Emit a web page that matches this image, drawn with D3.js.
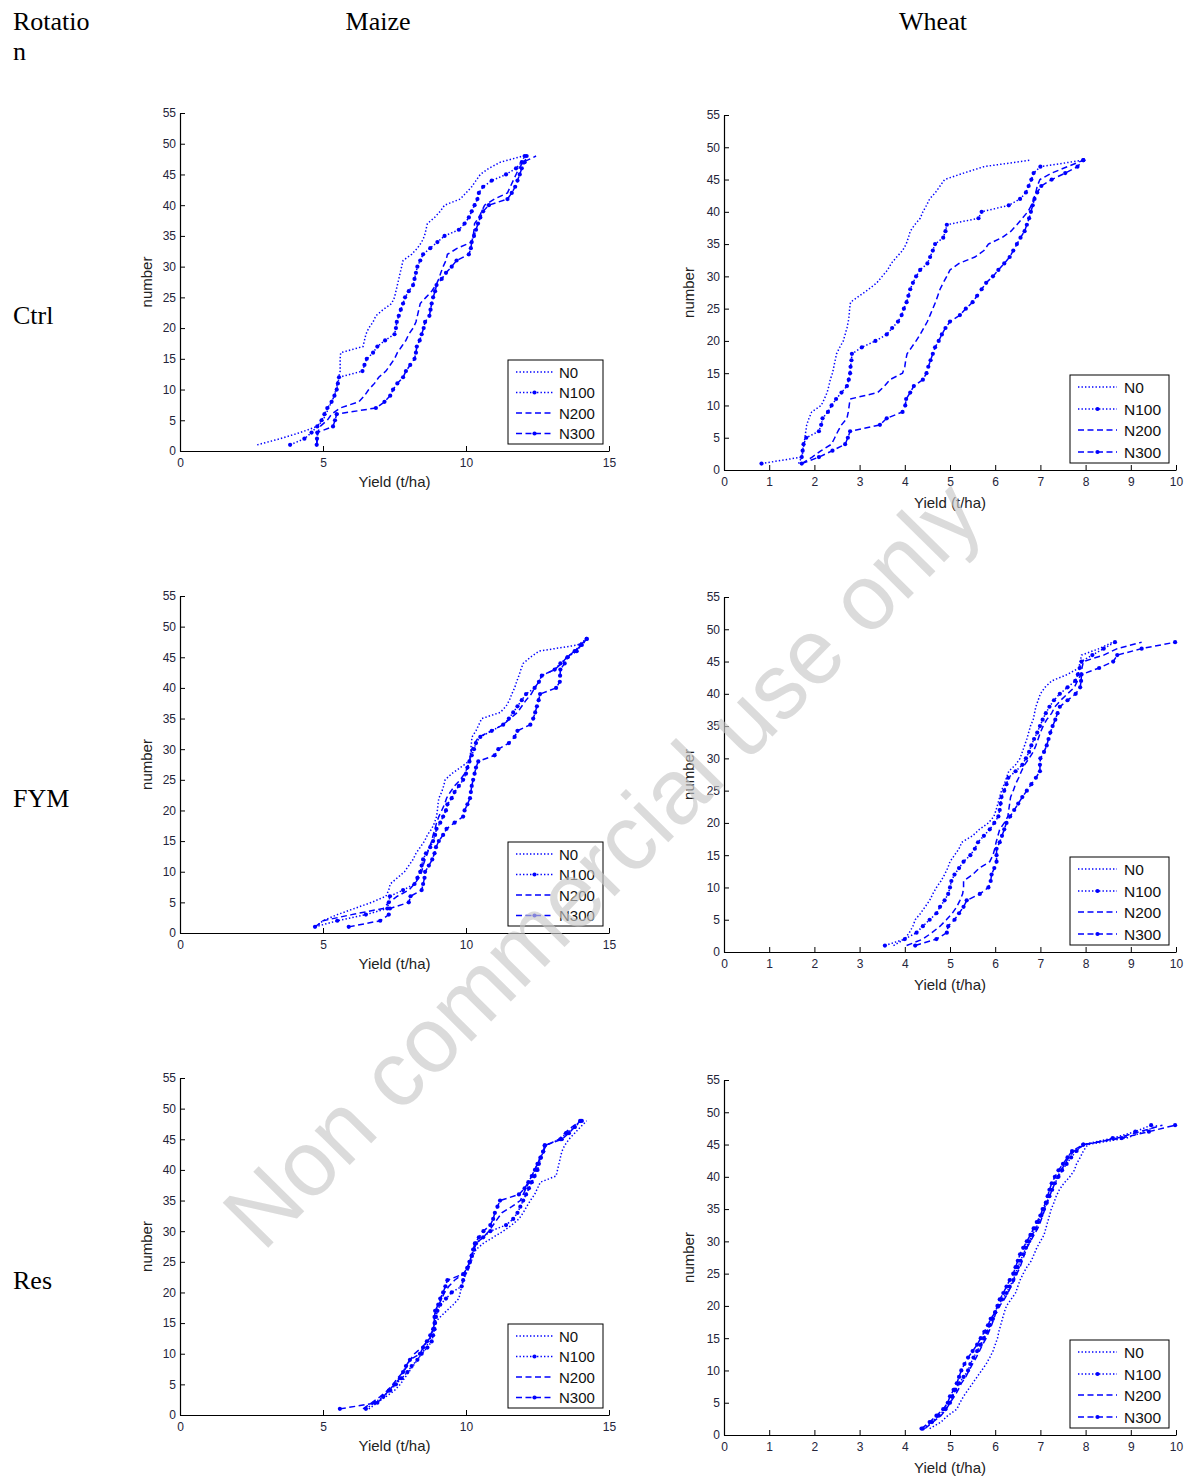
<!DOCTYPE html>
<html><head><meta charset="utf-8">
<script src="https://cdn.jsdelivr.net/npm/d3@7"></script>
<style>
html,body{margin:0;padding:0;background:#fff;}
svg{display:block;}
</style></head>
<body>
<svg id="chart" width="1190" height="1479"></svg>
<script>
// ---------- DATA (yield, t/ha, of the 1st..48th ranked case) ----------
const seriesNames = ["N0", "N100", "N200", "N300"];
const cropNames = ["Maize", "Wheat"];
const rotationNames = ["Ctrl", "FYM", "Res"];
const yTicks = [0,5,10,15,20,25,30,35,40,45,50,55];
const maizeXTicks = [0,5,10,15];
const wheatXTicks = [0,1,2,3,4,5,6,7,8,9,10];

const maizeCtrlN0 = [2.7,3.5,4.2,4.8,5.0,5.1,5.2,5.3,5.4,5.45,
 5.5,5.55,5.6,5.6,5.6,5.62,6.4,6.45,6.5,6.6,
 6.75,6.85,7.1,7.4,7.5,7.55,7.6,7.65,7.7,7.75,
 7.8,8.1,8.3,8.45,8.55,8.6,8.65,8.9,9.1,9.25,
 9.8,10.0,10.2,10.35,10.5,10.8,11.2,12.0];
const maizeCtrlN100 = [3.85,4.35,4.6,4.8,4.95,5.05,5.15,5.3,5.4,5.48,
 5.52,5.56,6.38,6.45,6.53,6.75,6.9,7.17,7.5,7.55,
 7.58,7.65,7.72,7.8,7.87,8.0,8.15,8.2,8.25,8.3,
 8.4,8.5,8.75,9.0,9.25,9.75,9.95,10.1,10.2,10.3,
 10.4,10.45,10.6,10.9,11.4,11.75,11.95,12.05];
const maizeCtrlN200 = [4.78,4.8,4.82,4.9,5.15,5.3,5.6,6.25,6.45,6.6,
 6.8,6.95,7.2,7.35,7.5,7.6,7.75,7.9,8.0,8.15,
 8.25,8.3,8.35,8.4,8.6,8.8,8.95,9.05,9.12,9.2,
 9.3,9.35,9.7,10.2,10.25,10.28,10.3,10.45,10.55,10.65,
 11.0,11.45,11.55,11.65,11.75,11.85,12.0,12.45];
const maizeCtrlN300 = [4.78,4.79,4.8,5.35,5.42,5.48,6.85,7.15,7.35,7.45,
 7.6,7.8,7.9,8.05,8.2,8.25,8.28,8.38,8.45,8.52,
 8.57,8.72,8.76,8.8,8.85,8.92,8.97,9.15,9.3,9.5,
 9.67,10.1,10.17,10.2,10.28,10.35,10.42,10.5,10.6,10.8,
 11.45,11.6,11.72,11.8,11.88,11.95,12.05,12.12];

const wheatCtrlN0 = [1.65,1.72,1.75,1.77,1.79,1.81,1.83,1.88,1.94,2.15,
 2.22,2.28,2.32,2.35,2.4,2.43,2.46,2.49,2.56,2.64,
 2.68,2.72,2.75,2.77,2.78,2.8,3.0,3.2,3.38,3.5,
 3.62,3.7,3.82,3.95,4.03,4.08,4.12,4.22,4.34,4.4,
 4.48,4.55,4.68,4.78,4.88,5.3,5.75,6.77];
const wheatCtrlN100 = [0.83,1.72,1.74,1.76,1.82,2.1,2.15,2.18,2.3,2.38,
 2.48,2.6,2.72,2.76,2.79,2.8,2.82,2.83,3.05,3.35,
 3.6,3.72,3.85,3.93,3.98,4.04,4.08,4.12,4.18,4.25,
 4.34,4.5,4.56,4.62,4.67,4.85,4.9,4.93,5.63,5.7,
 6.3,6.55,6.68,6.74,6.8,6.85,7.0,7.95];
const wheatCtrlN200 = [1.72,1.95,2.15,2.38,2.45,2.52,2.6,2.72,2.75,2.77,
 2.79,3.4,3.55,3.67,3.95,4.0,4.02,4.05,4.15,4.25,
 4.34,4.42,4.5,4.56,4.62,4.68,4.73,4.78,4.85,4.93,
 5.0,5.2,5.55,5.75,5.85,6.15,6.35,6.48,6.6,6.72,
 6.8,6.85,6.9,6.93,6.99,7.25,7.6,7.95];
const wheatCtrlN300 = [1.72,2.1,2.4,2.68,2.74,2.79,3.45,3.6,3.95,4.01,
 4.03,4.12,4.2,4.4,4.48,4.52,4.57,4.62,4.67,4.75,
 4.82,4.9,5.0,5.22,5.35,5.5,5.6,5.7,5.8,5.95,
 6.07,6.2,6.32,6.4,6.48,6.56,6.65,6.7,6.75,6.79,
 6.83,6.87,6.93,7.02,7.25,7.55,7.82,7.95];

const maizeFymN0 = [4.75,5.0,5.5,6.1,6.7,7.2,7.3,7.35,7.6,7.85,
 8.0,8.15,8.25,8.4,8.55,8.65,8.8,8.9,8.97,9.0,
 9.02,9.05,9.15,9.22,9.27,9.5,9.8,10.1,10.15,10.17,
 10.19,10.21,10.35,10.45,10.55,11.2,11.4,11.52,11.6,11.7,
 11.77,11.85,11.92,12.0,12.25,12.55,13.9,14.22];
const maizeFymN100 = [4.72,5.5,6.5,7.25,7.3,7.34,7.8,8.2,8.3,8.4,
 8.45,8.5,8.6,8.75,8.85,8.92,8.97,9.1,9.2,9.3,
 9.35,9.5,9.6,9.75,9.9,10.0,10.05,10.12,10.2,10.28,
 10.35,10.5,10.9,11.3,11.5,11.65,11.8,11.95,12.1,12.4,
 12.55,12.65,13.1,13.3,13.55,13.87,14.05,14.22];
const maizeFymN200 = [4.72,5.0,6.0,7.1,7.3,7.6,8.0,8.2,8.35,8.45,
 8.5,8.57,8.65,8.72,8.8,8.85,8.92,8.97,9.05,9.15,
 9.25,9.32,9.45,9.6,9.8,9.95,10.05,10.12,10.16,10.2,
 10.3,10.45,10.9,11.3,11.55,11.8,11.95,12.1,12.28,12.4,
 12.55,12.65,13.1,13.35,13.52,13.8,14.05,14.22];
const maizeFymN300 = [5.9,7.0,7.3,7.34,8.0,8.06,8.45,8.5,8.55,8.57,
 8.7,8.82,8.9,8.95,9.05,9.2,9.32,9.6,9.9,9.95,
 10.05,10.14,10.17,10.2,10.25,10.3,10.35,10.43,11.0,11.13,
 11.5,11.7,11.8,12.25,12.35,12.42,12.48,12.54,12.59,13.15,
 13.28,13.29,13.3,13.45,13.55,13.8,14.0,14.22];

const wheatFymN0 = [3.75,4.0,4.1,4.18,4.23,4.35,4.45,4.55,4.62,4.7,
 4.8,4.88,4.95,5.0,5.1,5.2,5.26,5.5,5.65,5.85,
 5.97,6.02,6.06,6.1,6.14,6.2,6.25,6.3,6.45,6.55,
 6.6,6.65,6.7,6.74,6.78,6.84,6.87,6.9,6.95,7.0,
 7.1,7.25,7.6,7.85,7.88,7.91,8.3,8.6];
const wheatFymN100 = [3.56,4.0,4.26,4.4,4.55,4.7,4.78,4.88,4.96,5.0,
 5.03,5.1,5.2,5.3,5.45,5.55,5.62,5.75,5.88,5.98,
 6.07,6.1,6.12,6.14,6.2,6.25,6.29,6.45,6.6,6.68,
 6.75,6.8,6.86,6.93,6.99,7.05,7.12,7.2,7.3,7.43,
 7.6,7.77,7.83,7.87,7.91,8.15,8.4,8.65];
const wheatFymN200 = [4.04,4.4,4.6,4.78,4.92,5.05,5.15,5.22,5.28,5.3,
 5.3,5.5,5.65,5.88,5.95,5.99,6.02,6.06,6.1,6.2,
 6.28,6.3,6.32,6.34,6.4,6.45,6.52,6.58,6.65,6.75,
 6.84,6.9,6.95,7.0,7.06,7.14,7.25,7.32,7.45,7.6,
 7.75,7.82,7.9,7.92,7.95,8.4,8.7,9.24];
const wheatFymN300 = [4.23,4.7,4.93,4.96,5.1,5.2,5.3,5.37,5.66,5.85,
 5.9,5.92,5.98,6.03,6.03,6.03,6.1,6.15,6.2,6.25,
 6.33,6.42,6.51,6.6,6.7,6.8,6.9,6.99,6.99,7.0,
 7.08,7.14,7.18,7.22,7.27,7.33,7.38,7.43,7.6,7.78,
 7.88,7.9,7.91,8.3,8.61,8.7,9.24,9.98];

const maizeResN0 = [6.6,6.9,7.2,7.5,7.7,7.85,8.0,8.15,8.3,8.45,
 8.6,8.7,8.8,8.85,8.9,9.1,9.32,9.55,9.75,9.8,
 9.85,9.9,10.0,10.1,10.18,10.25,10.35,10.6,10.95,11.3,
 11.6,11.85,12.0,12.12,12.25,12.4,12.5,12.6,13.15,13.2,
 13.25,13.3,13.35,13.45,13.6,13.8,14.0,14.22];
const maizeResN100 = [6.5,6.8,7.1,7.35,7.55,7.75,7.95,8.1,8.3,8.45,
 8.65,8.8,8.85,8.9,8.92,8.95,9.0,9.1,9.3,9.5,
 9.85,9.9,9.95,10.05,10.12,10.2,10.28,10.35,10.6,10.85,
 11.4,11.65,11.8,11.9,12.0,12.1,12.2,12.3,12.4,12.5,
 12.55,12.62,12.7,12.75,13.3,13.5,13.8,14.05];
const maizeResN200 = [6.4,6.7,7.0,7.25,7.45,7.6,7.8,7.95,8.05,8.2,
 8.45,8.65,8.8,8.85,8.88,8.9,8.95,9.05,9.15,9.25,
 9.4,9.6,9.9,10.05,10.12,10.2,10.28,10.35,10.6,10.8,
 10.95,11.1,11.25,11.6,11.9,12.0,12.1,12.2,12.3,12.4,
 12.5,12.6,12.7,12.8,13.25,13.45,13.7,14.0];
const maizeResN300 = [5.59,6.9,7.11,7.3,7.5,7.69,7.8,7.9,8.04,8.39,
 8.5,8.63,8.75,8.85,8.9,8.9,8.92,9.03,9.1,9.2,
 9.28,9.35,9.9,10.05,10.14,10.2,10.25,10.31,10.45,10.61,
 10.85,10.95,11.01,11.1,11.19,11.85,12.05,12.18,12.3,12.41,
 12.5,12.6,12.7,12.76,13.35,13.6,13.8,13.99];

const wheatResN0 = [4.55,4.8,4.95,5.15,5.22,5.3,5.4,5.5,5.6,5.7,
 5.8,5.88,5.95,6.0,6.05,6.08,6.12,6.16,6.2,6.25,
 6.35,6.45,6.5,6.55,6.62,6.7,6.8,6.86,6.92,7.0,
 7.08,7.12,7.16,7.2,7.24,7.3,7.35,7.42,7.52,7.65,
 7.75,7.8,7.88,7.95,8.05,8.9,9.3,9.6];
const wheatResN100 = [4.4,4.6,4.75,4.9,5.0,5.05,5.12,5.2,5.3,5.4,
 5.45,5.52,5.6,5.68,5.75,5.82,5.88,5.95,6.0,6.07,
 6.15,6.25,6.32,6.4,6.45,6.5,6.56,6.62,6.68,6.75,
 6.82,6.9,6.96,7.02,7.08,7.14,7.2,7.26,7.32,7.4,
 7.48,7.58,7.68,7.8,7.95,8.6,9.1,9.45];
const wheatResN200 = [4.45,4.62,4.8,4.92,5.0,5.1,5.18,5.25,5.35,5.42,
 5.5,5.58,5.65,5.72,5.8,5.86,5.92,5.97,6.02,6.1,
 6.2,6.28,6.35,6.42,6.48,6.55,6.6,6.65,6.7,6.78,
 6.86,6.94,7.0,7.05,7.1,7.15,7.2,7.26,7.32,7.38,
 7.45,7.55,7.62,7.75,7.98,8.7,9.2,9.7];
const wheatResN300 = [4.37,4.55,4.7,4.85,4.95,5.0,5.08,5.15,5.2,5.25,
 5.32,5.4,5.5,5.6,5.68,5.76,5.84,5.9,6.0,6.05,
 6.1,6.18,6.25,6.32,6.4,6.45,6.5,6.55,6.62,6.7,
 6.78,6.85,6.92,7.0,7.05,7.12,7.16,7.2,7.25,7.32,
 7.4,7.5,7.6,7.7,7.95,8.8,9.4,9.98];

// ---------- LAYOUT ----------
const svg = d3.select("#chart");
const BLUE = "#0000ff";
const SANS = "'Liberation Sans', Arial, Helvetica, sans-serif";
const SERIF = "'Liberation Serif', 'Times New Roman', serif";

const styles = [
  {dash: "1.4,2.1", marker: false},
  {dash: "1.4,2.1", marker: true},
  {dash: "6,3.5", marker: false},
  {dash: "6,3.5", marker: true}
];

const cropLayout = {
  Maize: {x0: 180, x1: 609, xmax: 15, ticks: maizeXTicks, legX: 508, legW: 95, legH: 84, legOff: 91,
          rows: [12, 32.5, 53, 73.5], lineX0: 8, lineX1: 45, textX: 51, fs: 15, yLabOff: 28, xLabOff: 36,
          bottoms: [451, 933, 1415], tops: [113, 596, 1078]},
  Wheat: {x0: 724, x1: 1176, xmax: 10, ticks: wheatXTicks, legX: 1070, legW: 99, legH: 88, legOff: 95,
          rows: [12, 34, 55, 77], lineX0: 8, lineX1: 47, textX: 54, fs: 15.5, yLabOff: 30, xLabOff: 38,
          bottoms: [470, 952, 1435], tops: [115, 597, 1080]}
};

const panelData = {
  Maize: [[maizeCtrlN0, maizeCtrlN100, maizeCtrlN200, maizeCtrlN300],
          [maizeFymN0, maizeFymN100, maizeFymN200, maizeFymN300],
          [maizeResN0, maizeResN100, maizeResN200, maizeResN300]],
  Wheat: [[wheatCtrlN0, wheatCtrlN100, wheatCtrlN200, wheatCtrlN300],
          [wheatFymN0, wheatFymN100, wheatFymN200, wheatFymN300],
          [wheatResN0, wheatResN100, wheatResN200, wheatResN300]]
};

// headers
svg.append("text").attr("x", 13).attr("y", 30).attr("font-family", SERIF).attr("font-size", 26).text("Rotatio");
svg.append("text").attr("x", 13).attr("y", 60).attr("font-family", SERIF).attr("font-size", 26).text("n");
svg.append("text").attr("x", 378).attr("y", 30).attr("text-anchor", "middle").attr("font-family", SERIF).attr("font-size", 26).text(cropNames[0]);
svg.append("text").attr("x", 933).attr("y", 30).attr("text-anchor", "middle").attr("font-family", SERIF).attr("font-size", 26).text(cropNames[1]);
const rotBase = [324, 807, 1289];
rotationNames.forEach((r, i) => {
  svg.append("text").attr("x", 13).attr("y", rotBase[i]).attr("font-family", SERIF).attr("font-size", 26).text(r);
});

function drawMarker(g, cx, cy) {
  g.append("circle").attr("cx", cx).attr("cy", cy).attr("r", 2.1).attr("fill", BLUE);
}

cropNames.forEach(crop => {
  const L = cropLayout[crop];
  rotationNames.forEach((rot, ri) => {
    const ybot = L.bottoms[ri], ytop = L.tops[ri];
    const x = d3.scaleLinear().domain([0, L.xmax]).range([L.x0, L.x1]);
    const y = d3.scaleLinear().domain([0, 55]).range([ybot, ytop]);
    const g = svg.append("g");

    // axes
    const ax = g.append("g").attr("transform", `translate(0,${ybot})`)
      .call(d3.axisBottom(x).tickValues(L.ticks).tickFormat(d3.format("d")).tickSize(-5).tickSizeOuter(0).tickPadding(7));
    const ay = g.append("g").attr("transform", `translate(${L.x0},0)`)
      .call(d3.axisLeft(y).tickValues(yTicks).tickFormat(d3.format("d")).tickSize(-5).tickSizeOuter(0).tickPadding(4));
    [ax, ay].forEach(a => {
      a.select(".domain").attr("stroke", "#000").attr("stroke-width", 1.2);
      a.selectAll(".tick line").attr("stroke", "#000").attr("stroke-width", 1);
      a.selectAll(".tick text").attr("fill", "#24243a").attr("font-family", SANS).attr("font-size", 12);
    });

    // axis labels
    g.append("text").attr("x", (L.x0 + L.x1) / 2).attr("y", ybot + L.xLabOff)
      .attr("text-anchor", "middle").attr("font-family", SANS).attr("font-size", 15).attr("fill", "#222")
      .text("Yield (t/ha)");
    g.append("text").attr("transform", `translate(${L.x0 - L.yLabOff},${(ybot + ytop) / 2}) rotate(-90)`)
      .attr("text-anchor", "middle").attr("font-family", SANS).attr("font-size", 15).attr("fill", "#222")
      .text("number");

    // series
    const line = d3.line().x(d => x(d.v)).y(d => y(d.n));
    panelData[crop][ri].forEach((vals, si) => {
      const pts = vals.map((v, i) => ({v: v, n: i + 1}));
      g.append("path").datum(pts).attr("d", line).attr("fill", "none")
        .attr("stroke", BLUE).attr("stroke-width", 1.5).attr("stroke-dasharray", styles[si].dash);
      if (styles[si].marker) {
        pts.forEach(p => drawMarker(g, x(p.v), y(p.n)));
      }
    });

    // legend
    const lg = g.append("g").attr("transform", `translate(${L.legX},${ybot - L.legOff})`);
    lg.append("rect").attr("x", 0).attr("y", 0).attr("width", L.legW).attr("height", L.legH)
      .attr("fill", "#fff").attr("stroke", "#000").attr("stroke-width", 1);
    seriesNames.forEach((s, si) => {
      const yy = L.rows[si];
      lg.append("line").attr("x1", L.lineX0).attr("x2", L.lineX1).attr("y1", yy).attr("y2", yy)
        .attr("stroke", BLUE).attr("stroke-width", 1.6).attr("stroke-dasharray", styles[si].dash);
      if (styles[si].marker) drawMarker(lg, (L.lineX0 + L.lineX1) / 2, yy);
      lg.append("text").attr("x", L.textX).attr("y", yy + 5.5).attr("font-family", SANS)
        .attr("font-size", L.fs).attr("fill", "#111").text(s);
    });
  });
});

// watermark
svg.append("text")
  .attr("transform", "translate(263,1253) rotate(-45.4)")
  .attr("font-family", SANS).attr("font-size", 93)
  .attr("textLength", 1030).attr("lengthAdjust", "spacingAndGlyphs")
  .attr("fill", "#c8c8c8").attr("fill-opacity", 0.65)
  .text("Non commercial use only");
</script>
</body></html>
